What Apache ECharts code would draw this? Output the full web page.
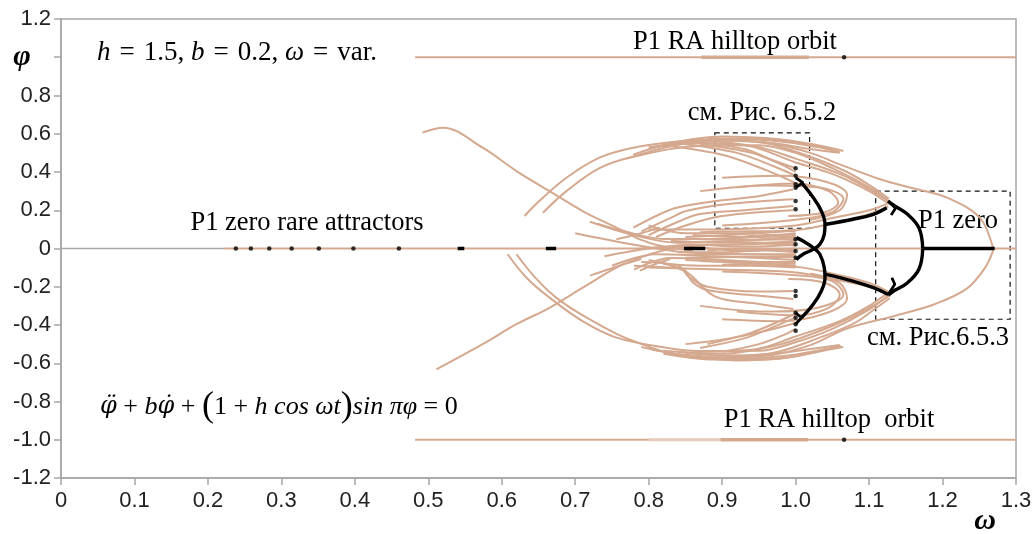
<!DOCTYPE html>
<html>
<head>
<meta charset="utf-8">
<script src="https://cdn.jsdelivr.net/npm/echarts@6/dist/echarts.min.js"></script>
<style>
  html, body { margin: 0; padding: 0; background: #fff; }
  #chart { width: 1036px; height: 534px; }
</style>
</head>
<body>
<div id="chart"></div>
<script>
// ---- tick labels ----
const xTickLabels = ['0', '0.1', '0.2', '0.3', '0.4', '0.5', '0.6', '0.7', '0.8', '0.9', '1.0', '1.1', '1.2', '1.3'];
const yTickLabels = ['-1.2', '-1.0', '-0.8', '-0.6', '-0.4', '-0.2', '0', '0.2', '0.4', '0.6', '0.8', '', '1.2'];

// ---- reference lines (omega, phi) ----
const zeroGrey = [[0, 0], [0.222, 0]];
const zeroTan = [[0.222, 0], [1.3, 0]];
const hilltopUpper = [[0.482, 1.0], [1.3, 1.0]];
const hilltopUpperWide = [[0.872, 1.0], [1.018, 1.0]];
const hilltopLower = [[0.482, -1.0], [1.3, -1.0]];
const hilltopLowerFaint = [[0.8, -1.0], [0.9, -1.0]];
const hilltopLowerWide = [[0.898, -1.0], [1.017, -1.0]];

// ---- rare-attractor branches (tan) : upper half ----
const fallUpper = [[0.492, 0.606], [0.52, 0.632], [0.574, 0.527], [0.62, 0.405], [0.665, 0.30], [0.71, 0.196], [0.756, 0.109], [0.788, 0.048], [0.82, 0.01], [0.86, -0.01]];
const arcUpperOuter = [[0.631, 0.17], [0.651, 0.248], [0.688, 0.37], [0.733, 0.475], [0.779, 0.527], [0.824, 0.553], [0.869, 0.566], [0.95, 0.56], [1.02, 0.5], [1.06, 0.44], [1.115, 0.362], [1.16, 0.315], [1.206, 0.266], [1.251, 0.16], [1.269, 0.0]];
const arcUpperInner = [[0.656, 0.187], [0.688, 0.30], [0.733, 0.42], [0.779, 0.48], [0.869, 0.536], [0.95, 0.54], [1.0, 0.5], [1.05, 0.42], [1.1, 0.32], [1.126, 0.25]];
const topBundleA = [[0.779, 0.49], [0.83, 0.55], [0.9, 0.585], [0.98, 0.57], [1.03, 0.54], [1.065, 0.51]];
const topBundleB = [[0.77, 0.47], [0.83, 0.535], [0.9, 0.575], [0.98, 0.56], [1.03, 0.53], [1.06, 0.505]];
const topBundleC = [[0.82, 0.53], [0.9, 0.565], [0.97, 0.55], [1.02, 0.52], [1.06, 0.5]];
const topBundleD = [[0.8, 0.52], [0.88, 0.57], [0.95, 0.575], [1.01, 0.55], [1.05, 0.515]];
const hookFeedA = [[0.8, 0.53], [0.88, 0.56], [0.95, 0.53], [1.0, 0.47], [1.06, 0.39], [1.1, 0.31], [1.126, 0.25]];
const hookFeedB = [[0.85, 0.55], [0.93, 0.54], [1.0, 0.45], [1.05, 0.39], [1.1, 0.3], [1.128, 0.23]];
const hookFeedC = [[0.88, 0.575], [0.96, 0.55], [1.02, 0.48], [1.07, 0.4], [1.105, 0.32], [1.127, 0.26]];
const dropA = [[0.86, 0.56], [0.93, 0.52], [0.97, 0.46], [1.0, 0.42]];
const dropB = [[0.84, 0.55], [0.92, 0.5], [0.97, 0.43], [1.0, 0.38]];
const dropC = [[0.82, 0.54], [0.9, 0.49], [0.96, 0.41], [0.99, 0.36], [1.0, 0.34]];
const dropD = [[0.87, 0.545], [0.94, 0.5], [0.98, 0.44], [1.0, 0.4]];
const innerUpperA = [[0.779, 0.109], [0.815, 0.179], [0.838, 0.213], [0.892, 0.248], [0.951, 0.275], [0.997, 0.31]];
const innerUpperB = [[0.79, 0.09], [0.83, 0.16], [0.851, 0.196], [0.906, 0.231], [0.997, 0.257]];
const innerUpperC = [[0.8, 0.07], [0.84, 0.14], [0.87, 0.18], [0.93, 0.2], [0.997, 0.222]];
const innerUpperD = [[0.81, 0.06], [0.85, 0.12], [0.9, 0.17], [0.997, 0.2]];
const feedUpperA = [[0.85, 0.06], [0.95, 0.08], [1.01, 0.1], [1.06, 0.14], [1.1, 0.18], [1.126, 0.22]];
const feedUpperB = [[0.8, 0.1], [0.9, 0.1], [1.0, 0.12], [1.05, 0.16], [1.1, 0.2], [1.125, 0.235]];
const loopUpperA = [[0.87, 0.3], [0.96, 0.33], [1.03, 0.32], [1.065, 0.26], [1.05, 0.19], [1.0, 0.15], [0.9, 0.12]];
const loopUpperB = [[0.9, 0.37], [0.98, 0.38], [1.04, 0.35], [1.07, 0.28], [1.06, 0.2], [1.02, 0.15]];
const loopUpperC = [[0.92, 0.32], [1.0, 0.34], [1.045, 0.3], [1.058, 0.24], [1.04, 0.19], [0.99, 0.17]];
const segUpperA = [[0.756, 0.048], [0.79, 0.08], [0.815, 0.109]];
const segUpperB = [[0.73, 0.13], [0.77, 0.085], [0.8, 0.055]];

// ---- rare-attractor branches (tan) : lower half ----
const riseLower = [[0.511, -0.632], [0.574, -0.50], [0.62, -0.396], [0.665, -0.31], [0.71, -0.205], [0.756, -0.10], [0.788, -0.048], [0.82, -0.01], [0.86, 0.01]];
const arcLowerOuter = [[0.62, -0.03], [0.645, -0.15], [0.674, -0.257], [0.715, -0.36], [0.779, -0.484], [0.869, -0.571], [0.95, -0.565], [1.02, -0.505], [1.069, -0.42], [1.137, -0.35], [1.19, -0.29], [1.233, -0.21], [1.258, -0.1], [1.269, -0.01]];
const arcLowerInner = [[0.608, -0.03], [0.633, -0.15], [0.665, -0.257], [0.71, -0.38], [0.756, -0.466], [0.824, -0.519], [0.869, -0.536], [0.95, -0.535], [1.0, -0.49], [1.05, -0.42], [1.1, -0.32], [1.126, -0.245]];
const bottomBundleA = [[0.79, -0.515], [0.85, -0.56], [0.92, -0.585], [0.99, -0.57], [1.03, -0.54], [1.065, -0.515]];
const bottomBundleB = [[0.805, -0.53], [0.86, -0.56], [0.93, -0.575], [0.99, -0.56], [1.035, -0.53], [1.062, -0.51]];
const bottomBundleC = [[0.84, -0.54], [0.9, -0.56], [0.97, -0.55], [1.02, -0.525], [1.06, -0.505]];
const bottomBundleD = [[0.82, -0.55], [0.89, -0.58], [0.96, -0.58], [1.01, -0.555], [1.05, -0.52]];
const hookFeedLowA = [[0.82, -0.535], [0.9, -0.55], [0.97, -0.51], [1.02, -0.45], [1.07, -0.37], [1.105, -0.3], [1.128, -0.247]];
const hookFeedLowB = [[0.86, -0.54], [0.94, -0.53], [1.0, -0.46], [1.06, -0.38], [1.1, -0.3], [1.126, -0.23]];
const hookFeedLowC = [[0.89, -0.57], [0.97, -0.545], [1.03, -0.47], [1.08, -0.39], [1.11, -0.31], [1.128, -0.26]];
const riseLowA = [[0.85, -0.5], [0.906, -0.473], [0.96, -0.43], [1.0, -0.39]];
const riseLowB = [[0.87, -0.52], [0.93, -0.47], [0.97, -0.41], [1.0, -0.36]];
const riseLowC = [[0.88, -0.5], [0.94, -0.44], [1.0, -0.34]];
const riseLowD = [[0.9, -0.54], [0.95, -0.5], [0.985, -0.45], [1.0, -0.42]];
const innerLowerA = [[0.78, -0.09], [0.83, -0.1], [0.847, -0.107], [0.86, -0.177], [0.883, -0.22], [0.951, -0.247], [0.997, -0.264]];
const innerLowerB = [[0.79, -0.07], [0.84, -0.09], [0.855, -0.15], [0.88, -0.2], [0.95, -0.225], [0.997, -0.222]];
const innerLowerC = [[0.8, -0.06], [0.85, -0.12], [0.89, -0.25], [0.95, -0.29], [0.997, -0.316]];
const feedLowerA = [[0.85, -0.06], [0.95, -0.08], [1.01, -0.1], [1.06, -0.14], [1.1, -0.18], [1.126, -0.225]];
const feedLowerB = [[0.8, -0.1], [0.9, -0.11], [1.0, -0.125], [1.05, -0.16], [1.1, -0.2], [1.125, -0.24]];
const loopLowerA = [[0.87, -0.3], [0.96, -0.33], [1.03, -0.31], [1.065, -0.24], [1.05, -0.17], [1.0, -0.14], [0.9, -0.12]];
const loopLowerB = [[0.9, -0.37], [0.98, -0.38], [1.04, -0.34], [1.07, -0.26], [1.06, -0.18], [1.02, -0.13]];
const loopLowerC = [[0.92, -0.33], [1.0, -0.35], [1.045, -0.31], [1.06, -0.24], [1.04, -0.18], [0.99, -0.16]];
const segLowerA = [[0.72, -0.142], [0.76, -0.09], [0.79, -0.055]];
const segLowerB = [[0.788, -0.116], [0.81, -0.08], [0.829, -0.055]];

// ---- dense core near phi = 0 ----
const coreA = [[0.72, 0.14], [0.78, 0.07], [0.84, 0.03], [0.92, 0.04], [1.0, 0.06]];
const coreB = [[0.74, -0.04], [0.8, 0.0], [0.86, 0.02], [0.93, 0.01], [1.0, 0.02]];
const coreC = [[0.76, 0.1], [0.82, 0.05], [0.88, 0.05], [0.95, 0.06], [1.0, 0.08]];
const coreD = [[0.7, 0.08], [0.78, 0.02], [0.85, -0.02], [0.93, -0.03], [1.0, -0.03]];
const coreE = [[0.75, -0.09], [0.81, -0.03], [0.88, -0.04], [0.95, -0.05], [1.0, -0.06]];
const coreF = [[0.78, -0.11], [0.83, -0.05], [0.9, -0.06], [1.0, -0.08]];
const coreG = [[0.8, 0.12], [0.85, 0.08], [0.92, 0.08], [1.0, 0.1]];
const coreH = [[0.79, 0.0], [0.85, 0.01], [0.92, -0.01], [1.0, 0.0]];
const coreI = [[0.82, -0.08], [0.87, -0.09], [0.94, -0.09], [1.0, -0.1]];
const coreJ = [[0.83, 0.04], [0.9, 0.03], [0.96, 0.03], [1.0, 0.04]];
const coreK = [[0.84, -0.02], [0.9, -0.02], [0.96, -0.01], [1.0, -0.02]];
const coreL = [[0.86, 0.07], [0.93, 0.06], [1.0, 0.065]];
const coreM = [[0.85, -0.05], [0.92, -0.045], [1.0, -0.045]];
const coreN = [[0.86, 0.05], [0.93, 0.045], [1.0, 0.05]];
const coreO = [[0.84, 0.015], [0.91, 0.02], [1.0, 0.03]];
const coreP = [[0.85, -0.035], [0.92, -0.03], [1.0, -0.035]];
const coreQ = [[0.87, -0.065], [0.93, -0.07], [1.0, -0.07]];
const coreR = [[0.87, 0.085], [0.94, 0.09], [1.0, 0.09]];
const coreS = [[0.88, -0.01], [0.94, 0.0], [1.0, -0.01]];
const coreT = [[0.9, 0.035], [0.95, 0.03], [1.0, 0.015]];
const coreU = [[0.9, -0.085], [0.95, -0.08], [1.0, -0.09]];
const coreV = [[0.91, 0.055], [0.96, 0.07], [1.0, 0.075]];

// ---- P1 zero branch (black) ----
const p1Zero = [[1.173, 0], [1.271, 0]];
const p1SplitUp = [[1.173, 0.0], [1.168, 0.107], [1.152, 0.18], [1.132, 0.23], [1.126, 0.248]];
const p1SplitDown = [[1.173, 0.0], [1.168, -0.107], [1.152, -0.18], [1.132, -0.226], [1.126, -0.244]];
const p1LinkUp = [[1.041, 0.127], [1.078, 0.153], [1.106, 0.179], [1.124, 0.213]];
const p1LinkDown = [[1.041, -0.135], [1.078, -0.17], [1.106, -0.205], [1.126, -0.24]];
const p1ArcUp = [[1.008, 0.344], [1.024, 0.266], [1.035, 0.196], [1.04, 0.127], [1.039, 0.074], [1.033, 0.022], [1.024, -0.004], [1.01, -0.03], [1.001, -0.057]];
const p1ArcDown = [[1.001, 0.057], [1.01, 0.039], [1.024, 0.004], [1.033, -0.03], [1.039, -0.1], [1.04, -0.153], [1.035, -0.222], [1.024, -0.292], [1.008, -0.362]];
const hookA = [[1.0, 0.37], [1.01, 0.344], [1.0, 0.318]];
const hookB = [[1.0, -0.336], [1.008, -0.362], [1.0, -0.396]];
const hookC = [[1.126, 0.248], [1.136, 0.21], [1.13, 0.175]];
const hookD = [[1.126, -0.24], [1.135, -0.187], [1.131, -0.153]];
const rareDashA = [[0.54, 0], [0.549, 0]];
const rareDashB = [[0.66, 0], [0.674, 0]];
const rareDashC = [[0.848, 0], [0.877, 0]];

// ---- isolated P1 points (black) ----
const rareDots = [[0.238, 0], [0.2585, 0], [0.2835, 0], [0.314, 0], [0.351, 0], [0.398, 0], [0.46, 0]];
const edgeDots = [[1.0, 0.42], [1.0, 0.38], [1.0, 0.336], [1.0, 0.318], [1.0, 0.248], [1.0, 0.205],
                  [1.0, 0.048], [1.0, 0.022], [1.0, -0.013], [1.0, -0.048],
                  [1.0, -0.222], [1.0, -0.248], [1.0, -0.336], [1.0, -0.362], [1.0, -0.396], [1.0, -0.43]];
const hilltopDots = [[1.066, 1.0], [1.066, -1.0]];

// ---- framed zoom regions ----
const boxA = [[0.89, 0.605], [1.019, 0.106]];
const boxB = [[1.109, 0.30], [1.292, -0.37]];

const TAN = '#d4a98f';
const GREY = '#a6a6a6';
const SERIF = '"Liberation Serif", "Times New Roman", serif';
const SANS = '"Liberation Sans", Arial, sans-serif';

const tanCurves = [
  fallUpper, arcUpperOuter, arcUpperInner, topBundleA, topBundleB, topBundleC, topBundleD,
  hookFeedA, hookFeedB, hookFeedC, dropA, dropB, dropC, dropD,
  innerUpperA, innerUpperB, innerUpperC, innerUpperD, feedUpperA, feedUpperB,
  loopUpperA, loopUpperB, loopUpperC, segUpperA, segUpperB,
  riseLower, arcLowerOuter, arcLowerInner, bottomBundleA, bottomBundleB, bottomBundleC, bottomBundleD,
  hookFeedLowA, hookFeedLowB, hookFeedLowC, riseLowA, riseLowB, riseLowC, riseLowD,
  innerLowerA, innerLowerB, innerLowerC, feedLowerA, feedLowerB,
  loopLowerA, loopLowerB, loopLowerC, segLowerA, segLowerB,
  coreA, coreB, coreC, coreD, coreE, coreF, coreG, coreH, coreI, coreJ, coreK, coreL, coreM, coreN,
  coreO, coreP, coreQ, coreR, coreS, coreT, coreU, coreV
];
const blackCurves = [p1SplitUp, p1SplitDown, p1LinkUp, p1LinkDown, p1ArcUp, p1ArcDown];
const blackBits = [hookA, hookB, hookC, hookD];
const blackDashes = [rareDashA, rareDashB, rareDashC, p1Zero];

function line(data, color, width, smooth, z) {
  return { type: 'line', data: data, smooth: smooth, symbol: 'none', silent: true,
           lineStyle: { color: color, width: width }, z: z };
}

const series = [];
series.push(line(zeroGrey, GREY, 1.5, false, 1));
series.push(Object.assign(line(zeroTan, TAN, 1.8, false, 1), {
  markArea: {
    silent: true,
    itemStyle: { color: 'rgba(0,0,0,0)', borderColor: '#111', borderWidth: 1.2, borderType: [5, 4] },
    data: [
      [{ coord: boxA[0] }, { coord: boxA[1] }],
      [{ coord: boxB[0] }, { coord: boxB[1] }]
    ]
  }
}));
series.push(line(hilltopUpper, TAN, 2, false, 1));
series.push(line(hilltopUpperWide, TAN, 3.4, false, 1));
series.push(line(hilltopLower, TAN, 2, false, 1));
series.push(line(hilltopLowerFaint, '#e6cdbd', 3, false, 1));
series.push(line(hilltopLowerWide, TAN, 3.4, false, 1));
tanCurves.forEach(c => series.push(line(c, TAN, 2, 0.35, 2)));
blackCurves.forEach(c => series.push(line(c, '#000', 3.4, 0.4, 5)));
blackBits.forEach(c => series.push(line(c, '#000', 2.8, false, 5)));
blackDashes.forEach(c => series.push(line(c, '#000', 3.4, false, 5)));
series.push({ type: 'scatter', data: rareDots.concat(edgeDots, hilltopDots), symbolSize: 4.5, silent: true,
              itemStyle: { color: '#000' }, z: 6 });

const EQ = '\u2004=\u2004';
const chart = echarts.init(document.getElementById('chart'), null, { renderer: 'canvas' });
chart.setOption({
  animation: false,
  backgroundColor: '#fff',
  grid: { left: 61, right: 20, top: 19, bottom: 56, show: true, borderColor: GREY, borderWidth: 1.5 },
  xAxis: {
    type: 'value', min: 0, max: 1.3, interval: 0.1,
    axisLine: { show: true, onZero: false, lineStyle: { color: GREY, width: 1.5 } },
    axisTick: { show: true, length: 7, lineStyle: { color: GREY, width: 1.5 } },
    axisLabel: { margin: 12, color: '#222', fontFamily: SANS, fontSize: 22,
                 formatter: v => xTickLabels[Math.round(v * 10)] },
    splitLine: { show: false }
  },
  yAxis: {
    type: 'value', min: -1.2, max: 1.2, interval: 0.2,
    axisLine: { show: true, onZero: false, lineStyle: { color: GREY, width: 1.5 } },
    axisTick: { show: true, length: 7, lineStyle: { color: GREY, width: 1.5 } },
    axisLabel: { margin: 10, color: '#222', fontFamily: SANS, fontSize: 22,
                 formatter: v => yTickLabels[Math.round((v + 1.2) * 5)] },
    splitLine: { show: false }
  },
  series: series,
  graphic: [
    { type: 'text', x: 22, y: 57, style: { text: 'φ', font: 'italic bold 30px ' + SERIF, fill: '#000', align: 'center', verticalAlign: 'middle' } },
    { type: 'text', x: 985, y: 521, style: { text: 'ω', font: 'italic bold 30px ' + SERIF, fill: '#000', align: 'center', verticalAlign: 'middle' } },
    { type: 'text', x: 97, y: 53, style: {
        text: '{i|h}' + EQ + '1.5, {i|b}' + EQ + '0.2, {i|ω}' + EQ + 'var.', fill: '#000', align: 'left', verticalAlign: 'middle',
        font: '27px ' + SERIF,
        rich: { i: { fontStyle: 'italic', fontFamily: SERIF, fontSize: 27 } } } },
    { type: 'text', x: 100, y: 407, style: {
        text: '{d|φ̈} + {i|b}{d|φ̇} + {p|(}1 + {i|h cos ωt}{p|)}{i|sin πφ} = 0', fill: '#000', align: 'left', verticalAlign: 'middle',
        font: '26px ' + SERIF,
        rich: { i: { fontStyle: 'italic', fontFamily: SERIF, fontSize: 26 },
                d: { fontStyle: 'italic', fontFamily: '"DejaVu Serif", serif', fontSize: 24 },
                p: { fontFamily: SERIF, fontSize: 36 } } } },
    { type: 'text', x: 735, y: 42, style: { text: 'P1 RA hilltop orbit', font: '26.5px ' + SERIF, fill: '#000', align: 'center', verticalAlign: 'middle' } },
    { type: 'text', x: 829, y: 420, style: { text: 'P1 RA hilltop  orbit', font: '26.5px ' + SERIF, fill: '#000', align: 'center', verticalAlign: 'middle' } },
    { type: 'text', x: 762, y: 113, style: { text: 'см. Рис. 6.5.2', font: '26.5px ' + SERIF, fill: '#000', align: 'center', verticalAlign: 'middle' } },
    { type: 'text', x: 958, y: 221, style: { text: 'P1 zero', font: '26.5px ' + SERIF, fill: '#000', align: 'center', verticalAlign: 'middle' } },
    { type: 'text', x: 938, y: 338, style: { text: 'см. Рис.6.5.3', font: '26.5px ' + SERIF, fill: '#000', align: 'center', verticalAlign: 'middle' } },
    { type: 'text', x: 307, y: 223, style: { text: 'P1 zero rare attractors', font: '26.5px ' + SERIF, fill: '#000', align: 'center', verticalAlign: 'middle' } }
  ]
});
</script>
</body>
</html>
